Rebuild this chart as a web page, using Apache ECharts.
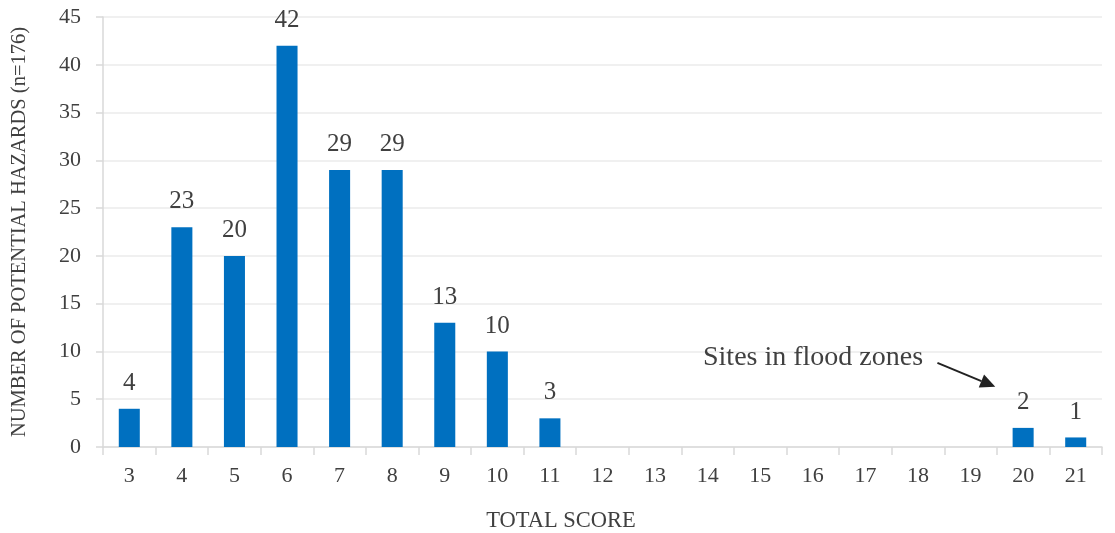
<!DOCTYPE html>
<html><head><meta charset="utf-8">
<script src="https://cdn.jsdelivr.net/npm/echarts@6/dist/echarts.min.js"></script>
<style>html,body{margin:0;padding:0;background:#fff}#c{width:1115px;height:533px}</style>
</head><body><div id="c"></div>
<script>
const categories = ['3','4','5','6','7','8','9','10','11','12','13','14','15','16','17','18','19','20','21'];
const counts = [4,23,20,42,29,29,13,10,3,0,0,0,0,0,0,0,0,2,1];
const yTicks = {min:0, max:45, interval:5};
const FONT = '"Liberation Serif", "DejaVu Serif", serif';
const TXT = '#404040';
const chart = echarts.init(document.getElementById('c'));
chart.setOption({
  animation:false,
  grid:{left:103,right:13,top:17,bottom:86},
  xAxis:{type:'category',data:categories,
    axisLine:{lineStyle:{color:'#d9d9d9',width:1.5}},
    axisTick:{show:true,length:8,lineStyle:{color:'#d9d9d9',width:1.5}},
    axisLabel:{color:TXT,fontFamily:FONT,fontSize:22,margin:18}},
  yAxis:{type:'value',min:yTicks.min,max:yTicks.max,interval:yTicks.interval,
    name:'NUMBER OF POTENTIAL HAZARDS (n=176)',nameLocation:'middle',nameGap:73,
    nameTextStyle:{color:TXT,fontFamily:FONT,fontSize:20.5},
    axisLine:{show:true,lineStyle:{color:'#d9d9d9',width:1.5}},
    axisTick:{show:true,length:7,lineStyle:{color:'#d9d9d9',width:1.5}},
    splitLine:{lineStyle:{color:'#ebebeb',width:1.5}},
    axisLabel:{color:TXT,fontFamily:FONT,fontSize:22,margin:22}},
  series:[{type:'bar',data:counts,barWidth:'40%',itemStyle:{color:'#0070C0'},
    label:{show:true,position:'top',distance:13,color:TXT,fontFamily:FONT,fontSize:25,
      formatter:p=>p.value>0?p.value:''}}]
});
function toPx(ci, v){
  const i0=Math.floor(ci), f=ci-i0;
  const p0=chart.convertToPixel({gridIndex:0},[i0,v]);
  const p1=chart.convertToPixel({gridIndex:0},[i0+1,v]);
  return [p0[0]+(p1[0]-p0[0])*f, p0[1]];
}
const a = toPx(15.37,8.8);
const b = toPx(16.47,6.3);
const ang = Math.atan2(b[1]-a[1], b[0]-a[0]);
const hl=15, hw=7;
const p1=[b[0]-hl*Math.cos(ang)+hw*Math.sin(ang), b[1]-hl*Math.sin(ang)-hw*Math.cos(ang)];
const p2=[b[0]-hl*Math.cos(ang)-hw*Math.sin(ang), b[1]-hl*Math.sin(ang)+hw*Math.cos(ang)];
const m=[b[0]-hl*Math.cos(ang), b[1]-hl*Math.sin(ang)];
chart.setOption({graphic:[
  {type:'text',left:703,top:344,style:{text:'Sites in flood zones',fill:TXT,font:'28px '+FONT}},
  {type:'line',shape:{x1:a[0],y1:a[1],x2:m[0],y2:m[1]},style:{stroke:'#222',lineWidth:2}},
  {type:'polygon',shape:{points:[b,p1,p2]},style:{fill:'#222'}},
  {type:'text',x:561,y:521,style:{text:'TOTAL SCORE',fill:TXT,font:'22.5px '+FONT,align:'center',verticalAlign:'middle'}}
]});
</script></body></html>
